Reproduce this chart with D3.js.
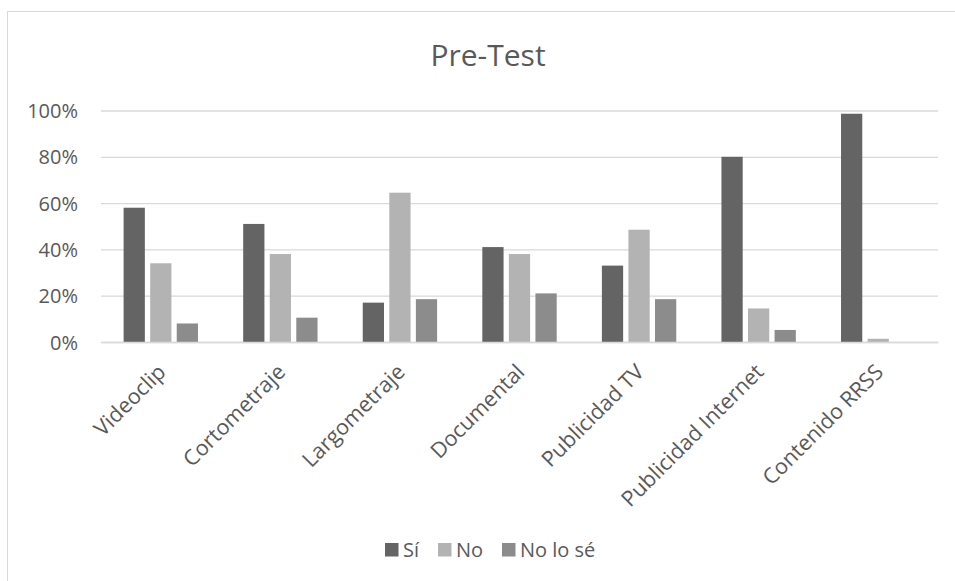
<!DOCTYPE html>
<html>
<head>
<meta charset="utf-8">
<script src="https://cdn.jsdelivr.net/npm/d3@7"></script>
<style>
  html, body { margin: 0; padding: 0; background: #fff; }
  svg { display: block; }
  text { font-family: "Open Sans", sans-serif; fill: #595959; }
</style>
</head>
<body>
<svg id="chart" width="955" height="581"></svg>
<script>
const title = "Pre-Test";
const categories = ["Videoclip", "Cortometraje", "Largometraje", "Documental", "Publicidad TV", "Publicidad Internet", "Contenido RRSS"];
const seriesNames = ["Sí", "No", "No lo sé"];
const seriesColors = ["#646464", "#b3b3b3", "#8c8c8c"];
const si     = [58, 51, 17, 41, 33, 80, 98.6];
const no     = [34, 38, 64.5, 38, 48.5, 14.5, 1.4];
const nolose = [8, 10.5, 18.5, 21, 18.5, 5.2, 0];
const yTicks = [0, 20, 40, 60, 80, 100];

const seriesValues = [si, no, nolose];
const data = categories.map((c, i) => ({
  cat: c,
  vals: seriesNames.map((s, j) => ({ series: s, idx: j, value: seriesValues[j][i] }))
}));

const svg = d3.select("#chart");

// chart border
svg.append("rect")
  .attr("x", 7.5).attr("y", 11.5)
  .attr("width", 962).attr("height", 600)
  .attr("fill", "none").attr("stroke", "#d9d9d9").attr("stroke-width", 1);

const plot = { left: 101, right: 938, top: 110.5, bottom: 342 };

const x0 = d3.scaleBand().domain(categories).range([plot.left, plot.right]).padding(0);
const groupPad = 22.6;
const x1 = d3.scaleBand().domain(seriesNames)
  .range([groupPad, x0.bandwidth() - groupPad]).paddingInner(0.2).paddingOuter(0);
const y = d3.scaleLinear().domain([0, 100]).range([plot.bottom, plot.top]);

// title
svg.append("text")
  .attr("x", 488).attr("y", 66)
  .attr("text-anchor", "middle")
  .style("font-size", "30px")
  .text(title);

// gridlines
const yAxis = d3.axisLeft(y).tickValues(yTicks)
  .tickSize(-(plot.right - plot.left))
  .tickPadding(23)
  .tickFormat(d => d + "%");
const gy = svg.append("g").attr("transform", `translate(${plot.left},0)`).call(yAxis);
gy.select(".domain").remove();
gy.selectAll(".tick line").attr("stroke", "#d9d9d9").attr("stroke-width", 1.3);
gy.selectAll(".tick text").style("font-size", "20px").attr("fill", "#595959").attr("dy", "0.35em");

// bars
const groups = svg.append("g").selectAll("g").data(data).join("g")
  .attr("transform", d => `translate(${x0(d.cat)},0)`);
groups.selectAll("rect").data(d => d.vals).join("rect")
  .attr("x", d => x1(d.series))
  .attr("width", x1.bandwidth())
  .attr("y", d => y(d.value))
  .attr("height", d => y(0) - y(d.value))
  .attr("fill", d => seriesColors[d.idx]);

// x axis labels
const xAxis = d3.axisBottom(x0).tickSize(0).tickPadding(0);
const gx = svg.append("g").attr("transform", `translate(0,${plot.bottom})`).call(xAxis);
gx.select(".domain").attr("stroke", "#d9d9d9").attr("stroke-width", 1.3);
gx.selectAll(".tick text")
  .style("font-size", "21.5px")
  .attr("fill", "#595959")
  .attr("text-anchor", "end")
  .attr("y", 0).attr("dy", "0.35em")
  .attr("transform", "translate(1,26) rotate(-45)");

// legend
const legend = svg.append("g");
const legendItems = [
  { name: seriesNames[0], color: seriesColors[0], x: 385 },
  { name: seriesNames[1], color: seriesColors[1], x: 438 },
  { name: seriesNames[2], color: seriesColors[2], x: 502 }
];
legendItems.forEach(it => {
  legend.append("rect").attr("x", it.x).attr("y", 543).attr("width", 13.5).attr("height", 13.5).attr("fill", it.color);
  legend.append("text").attr("x", it.x + 18).attr("y", 556.5).style("font-size", "20px").text(it.name);
});
</script>
</body>
</html>
